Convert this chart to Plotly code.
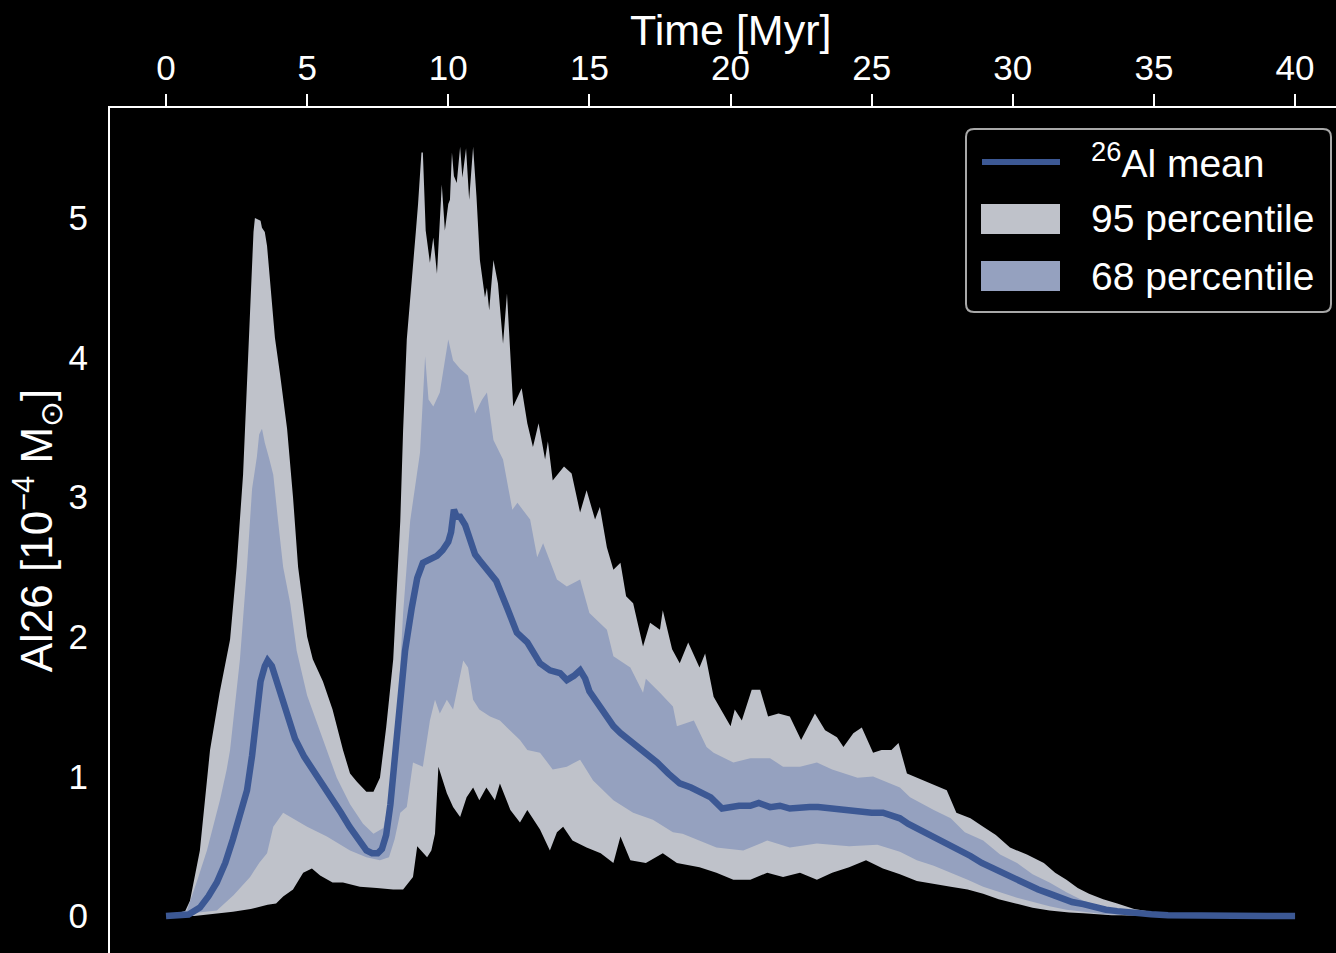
import plotly.graph_objects as go

# ---------------- data ----------------
mean_t = [0, 0.5, 0.8, 1.2, 1.5, 1.8, 2.1, 2.37, 2.6, 2.87, 3.05, 3.2, 3.35, 3.5, 3.6, 3.75, 3.9,
          4.1, 4.3, 4.57, 4.9, 5.2, 5.45, 5.8, 6.2, 6.5, 6.9, 7.1, 7.3, 7.5, 7.65, 7.8, 7.95,
          8.1, 8.3, 8.47, 8.7, 8.9, 9.1, 9.35, 9.6, 9.8, 10.0, 10.1, 10.2, 10.3, 10.42, 10.6,
          10.77, 10.95, 11.1, 11.37, 11.7, 12.08, 12.43, 12.8, 13.25, 13.6, 13.96, 14.2, 14.45,
          14.67, 14.85, 15.0, 15.4, 15.85, 16.1, 16.55, 16.8, 17.15, 17.4, 17.8, 18.2, 18.6,
          18.9, 19.3, 19.7, 20.0, 20.3, 20.7, 21.0, 21.4, 21.75, 22.1, 22.46, 22.8, 23.1, 23.5,
          23.9, 24.2, 24.6, 25.0, 25.4, 25.8, 26.0, 26.3, 26.6, 26.9, 27.2, 27.5, 27.8, 28.1,
          28.5, 28.9, 29.3, 29.7, 30.1, 30.5, 30.9, 31.3, 31.7, 32.1, 32.5, 32.9, 33.3, 33.7,
          34.2, 34.9, 35.5, 36.2, 37, 38, 39, 40]
mean_v = [0, 0, 0.01, 0.06, 0.14, 0.24, 0.38, 0.55, 0.72, 0.9, 1.15, 1.45, 1.68, 1.79, 1.83, 1.79, 1.7,
          1.55, 1.43, 1.27, 1.14, 1.05, 0.98, 0.86, 0.74, 0.64, 0.52, 0.47, 0.45, 0.45, 0.48, 0.58, 0.8,
          1.1, 1.55, 1.9, 2.2, 2.42, 2.53, 2.56, 2.58, 2.62, 2.68, 2.75, 2.91, 2.86, 2.86, 2.8,
          2.7, 2.59, 2.55, 2.48, 2.4, 2.21, 2.03, 1.96, 1.81, 1.76, 1.74, 1.69, 1.72,
          1.76, 1.7, 1.61, 1.49, 1.36, 1.31, 1.24, 1.2, 1.14, 1.1, 1.02, 0.95, 0.92,
          0.89, 0.85, 0.77, 0.78, 0.79, 0.79, 0.81, 0.78, 0.79, 0.77, 0.78, 0.78, 0.78, 0.77,
          0.76, 0.75, 0.74, 0.74, 0.74, 0.72, 0.7, 0.66, 0.63, 0.6, 0.57, 0.54, 0.5, 0.47,
          0.43, 0.38, 0.34, 0.3, 0.26, 0.22, 0.19, 0.16, 0.13, 0.1, 0.085, 0.06, 0.045, 0.035,
          0.022, 0.012, 0.006, 0.003, 0.001, 0, 0, 0]

p95_hi_t = [0, 0.6, 0.85, 1.2, 1.56, 1.9, 2.27, 2.5, 2.73, 2.98, 3.1, 3.15, 3.35, 3.4, 3.5, 3.58,
            3.7, 3.86, 4.04, 4.29, 4.5, 4.68, 5.0, 5.2, 5.56, 5.9, 6.27, 6.52, 6.77, 7.1, 7.35,
            7.58, 7.8, 8.05, 8.3, 8.4, 8.53, 8.72, 8.85, 8.93, 9.05, 9.1, 9.2, 9.35, 9.47, 9.6,
            9.7, 9.77, 9.88, 10.0, 10.06, 10.13, 10.2, 10.3, 10.42, 10.5, 10.63, 10.74, 10.88,
            11.0, 11.12, 11.3, 11.37, 11.45, 11.6, 11.76, 11.94, 12.08, 12.3, 12.6, 12.8, 13.0,
            13.2, 13.43, 13.53, 13.7, 14.1, 14.37, 14.67, 14.9, 15.2, 15.37, 15.62, 15.85, 16.1,
            16.3, 16.55, 16.9, 17.15, 17.5, 17.6, 17.93, 18.2, 18.5, 18.9, 19.1, 19.4, 20.0,
            20.15, 20.4, 20.75, 21.05, 21.33, 21.7, 22.1, 22.5, 22.99, 23.35, 23.77, 24.0, 24.35,
            24.65, 25.05, 25.35, 25.7, 25.95, 26.25, 26.7, 27.07, 27.66, 28.0, 28.5, 28.95, 29.4,
            29.9, 30.5, 31.1, 31.5, 31.9, 32.3, 32.7, 33.2, 33.7, 34.3, 34.9, 35.5, 36.2, 37, 40]
p95_hi_v = [0, 0, 0.11, 0.47, 1.19, 1.6, 1.98, 2.5, 3.16, 4.3, 4.9, 5.0, 4.98, 4.93, 4.9, 4.8,
            4.5, 4.14, 3.88, 3.49, 3.0, 2.5, 2.0, 1.84, 1.68, 1.48, 1.19, 1.02, 0.96, 0.89, 0.89,
            0.99, 1.35, 1.84, 2.83, 3.48, 4.13, 4.56, 4.9, 5.1, 5.47, 5.47, 4.91, 4.68, 4.86, 4.6,
            5.04, 5.24, 4.91, 5.1, 5.13, 5.47, 5.3, 5.25, 5.51, 5.29, 5.5, 5.13, 5.51,
            5.15, 4.7, 4.43, 4.5, 4.34, 4.7, 4.53, 4.1, 4.46, 3.65, 3.78, 3.53, 3.36,
            3.53, 3.27, 3.4, 3.12, 3.22, 3.17, 2.89, 3.05, 2.84, 2.93, 2.64, 2.48, 2.53,
            2.29, 2.24, 1.93, 2.1, 2.05, 2.19, 1.91, 1.81, 1.96, 1.78, 1.88, 1.57, 1.36,
            1.48, 1.4, 1.62, 1.62, 1.43, 1.45, 1.43, 1.26, 1.45, 1.33, 1.28, 1.21, 1.31,
            1.35, 1.17, 1.19, 1.19, 1.24, 1.02, 0.98, 0.95, 0.9, 0.74, 0.7, 0.64, 0.58,
            0.49, 0.44, 0.38, 0.31, 0.26, 0.2, 0.16, 0.12, 0.09, 0.05, 0.03, 0.015, 0.005, 0, 0]

p95_lo_t = [0, 1, 2.37, 3.0, 3.6, 3.9, 4.15, 4.5, 4.86, 5.17, 5.46, 5.9, 6.27, 6.87, 7.47, 8.05,
            8.4, 8.75, 8.9, 9.25, 9.4, 9.53, 9.65, 9.95, 10.17, 10.42, 10.65, 10.88, 11.1, 11.35,
            11.65, 11.83, 12.2, 12.54, 12.8, 13.25, 13.6, 13.85, 14.07, 14.4, 14.9, 15.4, 15.85,
            16.1, 16.45, 17.0, 17.6, 18.1, 18.9, 19.5, 20.1, 20.7, 21.3, 21.86, 22.46, 23.06,
            23.6, 24.2, 24.8, 25.4, 26.0, 26.6, 27.2, 27.8, 28.4, 28.95, 29.5, 30.1, 30.7, 31.3,
            32.0, 32.5, 33.5, 34, 40]
p95_lo_v = [0, 0, 0.03, 0.05, 0.08, 0.09, 0.14, 0.19, 0.31, 0.34, 0.29, 0.24, 0.24, 0.21, 0.2, 0.19,
            0.19, 0.28, 0.5, 0.42, 0.47, 0.59, 1.07, 0.88, 0.78, 0.71, 0.85, 0.92, 0.83, 0.92,
            0.83, 0.95, 0.76, 0.67, 0.76, 0.62, 0.47, 0.6, 0.64, 0.54, 0.49, 0.45, 0.38,
            0.57, 0.4, 0.38, 0.45, 0.38, 0.35, 0.31, 0.26, 0.26, 0.31, 0.28, 0.31, 0.26,
            0.31, 0.35, 0.4, 0.34, 0.3, 0.25, 0.23, 0.21, 0.19, 0.16, 0.12, 0.09, 0.06, 0.04,
            0.025, 0.02, 0.005, 0, 0]

p68_hi_t = [0, 0.74, 1.1, 1.45, 1.91, 2.15, 2.27, 2.62, 2.87, 3.05, 3.22, 3.3, 3.4, 3.5, 3.65, 3.8,
            3.97, 4.15, 4.4, 4.63, 5.0, 5.35, 5.7, 6.05, 6.52, 6.98, 7.35, 7.7, 7.94, 8.18, 8.4,
            8.65, 9.0, 9.18, 9.3, 9.47, 9.7, 9.85, 10.0, 10.17, 10.42, 10.7, 10.95, 11.2, 11.37,
            11.6, 11.94, 12.27, 12.45, 12.9, 13.15, 13.36, 13.85, 14.2, 14.67, 15.0, 15.62,
            15.85, 16.45, 16.9, 17.0, 17.5, 17.96, 18.1, 18.7, 19.15, 19.4, 20.1, 20.7, 21.4,
            21.86, 22.46, 23.06, 23.6, 24.5, 25.05, 25.66, 26.0, 26.36, 26.8, 27.2, 27.8, 28.3,
            28.95, 29.55, 30.15, 30.7, 31.3, 31.9, 32.5, 33.1, 33.7, 34.5, 35.5, 36, 40]
p68_hi_v = [0, 0.04, 0.25, 0.47, 0.83, 1.05, 1.19, 1.84, 2.5, 3.06, 3.29, 3.45, 3.49, 3.39, 3.28, 3.16,
            2.83, 2.5, 2.24, 1.9, 1.58, 1.38, 1.19, 0.99, 0.8, 0.66, 0.59, 0.63, 0.86, 1.35, 2.17,
            2.83, 3.32, 4.01, 3.7, 3.65, 3.75, 3.95, 4.13, 3.98, 3.92, 3.87, 3.6, 3.7, 3.75,
            3.41, 3.27, 2.91, 2.96, 2.84, 2.57, 2.67, 2.41, 2.36, 2.41, 2.17, 2.05,
            1.86, 1.78, 1.6, 1.7, 1.6, 1.5, 1.36, 1.4, 1.21, 1.17, 1.1, 1.13, 1.13,
            1.07, 1.07, 1.1, 1.05, 0.99, 1.0, 0.95, 0.92, 0.85, 0.8, 0.76, 0.7, 0.6,
            0.54, 0.44, 0.38, 0.3, 0.24, 0.17, 0.11, 0.07, 0.04, 0.015, 0.003, 0, 0]

p68_lo_t = [0, 1.8, 2.4, 2.98, 3.3, 3.58, 3.8, 4.15, 4.4, 5.0, 5.7, 6.52, 7.1, 7.58, 7.9, 8.1, 8.3,
            8.53, 8.75, 9.1, 9.35, 9.53, 9.7, 9.95, 10.17, 10.3, 10.53, 10.7, 10.88, 11.1, 11.48,
            11.83, 12.2, 12.54, 12.8, 13.25, 13.7, 14.2, 14.67, 15.13, 15.85, 16.55, 17.25,
            17.96, 18.3, 19.5, 20.45, 21.3, 22.1, 23.06, 24.2, 25.2, 26.0, 26.6, 27.2, 27.8,
            28.4, 28.95, 29.55, 30.15, 30.7, 31.3, 31.9, 32.5, 33.2, 34, 35, 40]
p68_lo_v = [0, 0.04, 0.15, 0.28, 0.38, 0.45, 0.64, 0.74, 0.71, 0.64, 0.57, 0.47, 0.42, 0.4, 0.42, 0.55, 0.74,
            0.78, 1.1, 1.07, 1.4, 1.55, 1.45, 1.55, 1.48, 1.6, 1.83, 1.78, 1.55, 1.48, 1.43,
            1.4, 1.33, 1.26, 1.19, 1.17, 1.05, 1.07, 1.12, 0.97, 0.83, 0.74, 0.69,
            0.6, 0.59, 0.49, 0.47, 0.54, 0.49, 0.52, 0.5, 0.51, 0.46, 0.4, 0.36, 0.31,
            0.26, 0.21, 0.17, 0.13, 0.1, 0.07, 0.045, 0.03, 0.015, 0.005, 0, 0]

x_ticks = [0, 5, 10, 15, 20, 25, 30, 35, 40]
y_ticks = [0, 1, 2, 3, 4, 5]
labels = ["<sup>26</sup>Al mean", "95 percentile", "68 percentile"]
x_title = "Time [Myr]"
y_title = "Al26 [10<sup>−4</sup> M<sub>⊙</sub>]"

# ---------------- style ----------------
C95 = "#bfc2ca"
C68 = "#95a1bf"
CMEAN = "#3c5894"
FONT = "Arial, Liberation Sans, sans-serif"
W, H = 1336, 953
ML, MT = 110, 108

fig = go.Figure()
fig.add_trace(go.Scatter(x=p95_hi_t + p95_lo_t[::-1], y=p95_hi_v + p95_lo_v[::-1],
                         fill="toself", fillcolor=C95, mode="lines", line=dict(width=0),
                         name=labels[1], showlegend=False, hoverinfo="skip"))
fig.add_trace(go.Scatter(x=p68_hi_t + p68_lo_t[::-1], y=p68_hi_v + p68_lo_v[::-1],
                         fill="toself", fillcolor=C68, mode="lines", line=dict(width=0),
                         name=labels[2], showlegend=False, hoverinfo="skip"))
fig.add_trace(go.Scatter(x=mean_t, y=mean_v, mode="lines",
                         line=dict(color=CMEAN, width=6.5), name=labels[0], showlegend=False))

# pixel -> paper helpers (for the hand-drawn legend box and top title)
PW, PH = W - ML, H - MT
def px(x):
    return (x - ML) / PW
def py(y):
    return (H - y) / PH

# legend frame with rounded corners
x0, x1, y0, y1, r = 966, 1331, 129, 312, 8
path = (f"M {px(x0 + r)} {py(y0)} L {px(x1 - r)} {py(y0)} Q {px(x1)} {py(y0)} {px(x1)} {py(y0 + r)} "
        f"L {px(x1)} {py(y1 - r)} Q {px(x1)} {py(y1)} {px(x1 - r)} {py(y1)} "
        f"L {px(x0 + r)} {py(y1)} Q {px(x0)} {py(y1)} {px(x0)} {py(y1 - r)} "
        f"L {px(x0)} {py(y0 + r)} Q {px(x0)} {py(y0)} {px(x0 + r)} {py(y0)} Z")
shapes = [
    dict(type="path", xref="paper", yref="paper", path=path,
         line=dict(color="#a8a8a8", width=2), fillcolor="black"),
    dict(type="line", xref="paper", yref="paper", x0=px(982), x1=px(1060), y0=py(162), y1=py(162),
         line=dict(color=CMEAN, width=6)),
    dict(type="rect", xref="paper", yref="paper", x0=px(981), x1=px(1060), y0=py(204), y1=py(234),
         line=dict(width=0), fillcolor=C95),
    dict(type="rect", xref="paper", yref="paper", x0=px(981), x1=px(1060), y0=py(261), y1=py(291),
         line=dict(width=0), fillcolor=C68),
]
annotations = []
for lab, yc in zip(labels, [160, 219, 276]):
    annotations.append(dict(xref="paper", yref="paper", x=px(1089), y=py(yc), xanchor="left",
                            yanchor="middle", text=lab, showarrow=False,
                            font=dict(family=FONT, size=39, color="white")))
# top axis title
annotations.append(dict(xref="paper", yref="paper", x=px(730), y=py(30), xanchor="center",
                        yanchor="middle", text=x_title, showarrow=False,
                        font=dict(family=FONT, size=43, color="white")))

fig.update_layout(
    width=W, height=H,
    paper_bgcolor="black", plot_bgcolor="black",
    margin=dict(l=ML, r=0, t=MT, b=0, autoexpand=False),
    shapes=shapes, annotations=annotations,
    showlegend=False,
    xaxis=dict(side="top", range=[-1.984, 41.45], tickvals=x_ticks, ticks="outside",
               ticklen=12, tickwidth=2, tickcolor="white", showline=True, linecolor="white",
               linewidth=2, showgrid=False, zeroline=False,
               tickfont=dict(family=FONT, size=35, color="white")),
    yaxis=dict(range=[-0.265, 5.788], tickvals=y_ticks, ticks="outside", ticklen=13,
               tickcolor="rgba(0,0,0,0)", showline=True, linecolor="white", linewidth=2,
               showgrid=False, zeroline=False,
               tickfont=dict(family=FONT, size=35, color="white"),
               title=dict(text=y_title, font=dict(family=FONT, size=44, color="white"),
                          standoff=1)),
)

fig.write_html("out.html", config={"displayModeBar": False},
               post_script="document.body.style.margin='0';document.body.style.background='black';")
